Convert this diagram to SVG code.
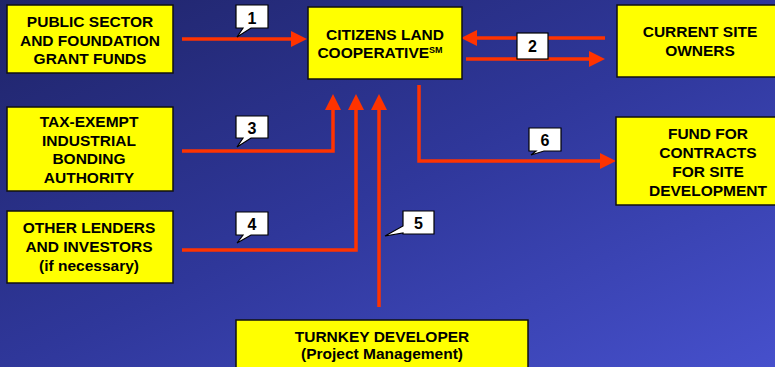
<svg xmlns="http://www.w3.org/2000/svg" width="775" height="367" viewBox="0 0 775 367">
<defs>
<linearGradient id="bg" x1="0" y1="0" x2="1" y2="1">
<stop offset="0" stop-color="#1f2468"/>
<stop offset="0.5" stop-color="#2f379a"/>
<stop offset="1" stop-color="#4650cc"/>
</linearGradient>
<marker id="ah" markerUnits="userSpaceOnUse" markerWidth="16" markerHeight="16" refX="0" refY="8" orient="auto" viewBox="0 0 16 16">
<path d="M0,0 L16,8 L0,16 Z" fill="#ff3300"/>
</marker>
<style>
.box{fill:#ffff00;stroke:#111;stroke-width:1.5}
.t{font-family:"Liberation Sans",Arial,sans-serif;font-weight:bold;font-size:15.5px;fill:#000;text-anchor:middle}
.n{font-family:"Liberation Sans",Arial,sans-serif;font-weight:bold;font-size:16px;fill:#000;text-anchor:middle}
.c{fill:#fff;stroke:#000;stroke-width:1.2}
.a{fill:none;stroke:#ff3300;stroke-width:3.5;marker-end:url(#ah)}
</style>
</defs>
<rect width="775" height="367" fill="url(#bg)"/>
<g id="connectors">
<path class="a" d="M182,39 H291"/>
<path class="a" d="M605,38 H477"/>
<path class="a" d="M466,59 H589"/>
<path class="a" d="M182,151 H333 V110"/>
<path class="a" d="M182,250 H356 V110"/>
<path class="a" d="M379,307 V110"/>
<path class="a" d="M419,85 V161 H600"/>
</g>
<g id="labels">
<g id="label1"><path class="c" d="M236,5 H268 V28 H251 L237,37 L243,28 H236 Z"/><text class="n" x="252" y="24">1</text></g>
<g id="label2"><rect class="c" x="517" y="33" width="31" height="26"/><text class="n" x="532.5" y="52">2</text></g>
<g id="label3"><path class="c" d="M236,116 H268 V138 H251 L237,147 L243,138 H236 Z"/><text class="n" x="252" y="134">3</text></g>
<g id="label4"><path class="c" d="M236,212 H268 V235 H251 L237,243 L243,235 H236 Z"/><text class="n" x="252" y="230">4</text></g>
<g id="label5"><path class="c" d="M403,211 H434 V234 H403 V233 L385,236 L403,226 Z"/><text class="n" x="418.5" y="229">5</text></g>
<g id="label6"><path class="c" d="M529,128 H561 V151 H544 L531,155 L536,151 H529 Z"/><text class="n" x="545" y="146">6</text></g>
</g>
<g id="public-sector">
<rect class="box" x="7" y="5" width="166" height="68"/>
<text class="t" x="90" y="27">PUBLIC SECTOR</text>
<text class="t" x="90" y="46">AND FOUNDATION</text>
<text class="t" x="90" y="64">GRANT FUNDS</text>
</g>
<g id="citizens">
<rect class="box" x="308" y="7" width="154" height="72"/>
<text class="t" x="385" y="40">CITIZENS LAND</text>
<text class="t" x="380" y="58">COOPERATIVE<tspan font-size="9" dy="-5">SM</tspan></text>
</g>
<g id="current-owners">
<rect class="box" x="617" y="5" width="170" height="72"/>
<text class="t" x="700" y="37">CURRENT SITE</text>
<text class="t" x="700" y="56">OWNERS</text>
</g>
<g id="tax-exempt">
<rect class="box" x="7" y="107" width="166" height="84"/>
<text class="t" x="89" y="127">TAX-EXEMPT</text>
<text class="t" x="89" y="146">INDUSTRIAL</text>
<text class="t" x="89" y="164">BONDING</text>
<text class="t" x="89" y="183">AUTHORITY</text>
</g>
<g id="other-lenders">
<rect class="box" x="7" y="211" width="166" height="72"/>
<text class="t" x="89" y="233">OTHER LENDERS</text>
<text class="t" x="89" y="252">AND INVESTORS</text>
<text class="t" x="89" y="271">(if necessary)</text>
</g>
<g id="fund">
<rect class="box" x="616" y="117" width="185" height="88"/>
<text class="t" x="708" y="139">FUND FOR</text>
<text class="t" x="708" y="158">CONTRACTS</text>
<text class="t" x="708" y="177">FOR SITE</text>
<text class="t" x="708" y="196">DEVELOPMENT</text>
</g>
<g id="turnkey">
<rect class="box" x="236" y="320" width="292" height="60"/>
<text class="t" x="382" y="342">TURNKEY DEVELOPER</text>
<text class="t" x="382" y="359">(Project Management)</text>
</g>
</svg>
